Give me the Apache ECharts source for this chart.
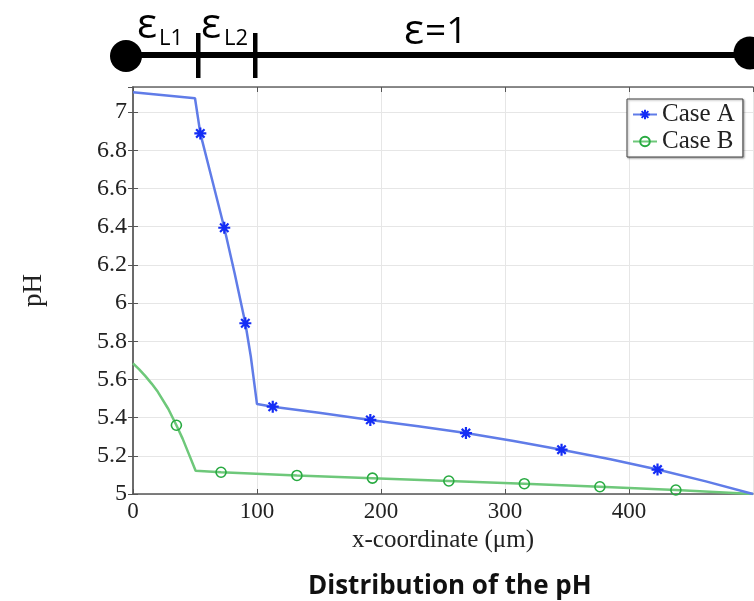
<!DOCTYPE html>
<html>
<head>
<meta charset="utf-8">
<script src="https://cdn.jsdelivr.net/npm/echarts@6/dist/echarts.min.js"></script>
<style>
html,body{margin:0;padding:0;background:#fff;}
#chart{width:754px;height:601px;}
</style>
</head>
<body>
<div id="chart"></div>
<script>
// ---- data ----
const xTicks = [0, 100, 200, 300, 400, 500];
const yTicks = [5, 5.2, 5.4, 5.6, 5.8, 6, 6.2, 6.4, 6.6, 6.8, 7];

const caseA_x  = [0, 50, 54.3, 64, 73.6, 82, 90.6, 95, 100, 112.7, 150, 191.4, 230, 268.5, 307, 345.6, 385, 423, 462, 500];
const caseA_pH = [7.103, 7.072, 6.888, 6.64, 6.394, 6.155, 5.894, 5.72, 5.471, 5.457, 5.425, 5.388, 5.355, 5.319, 5.277, 5.232, 5.182, 5.128, 5.066, 5.0];
const caseA_markX = [54.3, 73.6, 90.6, 112.7, 191.4, 268.5, 345.6, 423];

const caseB_x  = [0, 5, 10, 15, 20, 28.5, 35, 40, 45, 50.5, 71, 132.2, 193.1, 254.7, 315.6, 376.5, 437.8, 500];
const caseB_pH = [5.684, 5.652, 5.617, 5.578, 5.535, 5.445, 5.36, 5.29, 5.21, 5.122, 5.114, 5.097, 5.083, 5.068, 5.054, 5.038, 5.021, 5.0];
const caseB_markX = [35, 71, 132.2, 193.1, 254.7, 315.6, 376.5, 437.8];

const seriesNames = ['Case A', 'Case B'];
const titleText = 'Distribution of the pH';
const xName = 'x-coordinate (\u03bcm)';
const yName = 'pH';

// ---- build ----
function buildData(xs, ys, marks) {
  return xs.map((x, i) => {
    const item = { value: [x, ys[i]] };
    if (marks.indexOf(x) < 0) item.symbol = 'none';
    return item;
  });
}
const asterisk = 'path://M5,0L5,10M0,5L10,5M1.5,1.5L8.5,8.5M8.5,1.5L1.5,8.5';
const serif = 'Liberation Serif';
const sans = 'Open Sans';

const chart = echarts.init(document.getElementById('chart'), null, { renderer: 'canvas' });
const option = {
  animation: false,
  backgroundColor: '#fff',
  title: {
    text: titleText,
    left: 303, top: 569,
    textStyle: { fontFamily: sans, fontWeight: 'bold', fontSize: 26, color: '#111' }
  },
  grid: { left: 133, right: 1, top: 87, bottom: 107, containLabel: false },
  legend: {
    orient: 'vertical',
    left: 627, top: 99,
    data: seriesNames,
    backgroundColor: '#fff',
    borderColor: '#444', borderWidth: 1,
    shadowColor: 'rgba(0,0,0,0.35)', shadowBlur: 2, shadowOffsetX: 1, shadowOffsetY: 1,
    padding: [3, 8, 3, 5],
    itemWidth: 24, itemHeight: 12, itemGap: 2,
    textStyle: { fontFamily: serif, fontSize: 25, color: '#222' }
  },
  xAxis: [{
    type: 'value', min: xTicks[0], max: xTicks[xTicks.length - 1], interval: xTicks[1] - xTicks[0],
    name: xName, nameLocation: 'middle', nameGap: 33,
    nameTextStyle: { fontFamily: serif, fontSize: 25, color: '#222' },
    axisLine: { show: true, lineStyle: { color: '#555', width: 1.5 } },
    axisTick: { show: true, inside: true, length: 5, lineStyle: { color: '#555' } },
    axisLabel: { fontFamily: serif, fontSize: 23, color: '#222', margin: 6, showMaxLabel: false },
    splitLine: { show: true, lineStyle: { color: '#e6e6e6', width: 1 } }
  }, {
    type: 'value', position: 'top', min: xTicks[0], max: xTicks[xTicks.length - 1], interval: xTicks[1] - xTicks[0],
    axisLine: { show: true, lineStyle: { color: '#666', width: 1.5 } },
    axisTick: { show: true, inside: true, length: 5, lineStyle: { color: '#555' } },
    axisLabel: { show: false }, splitLine: { show: false }
  }],
  yAxis: [{
    type: 'value', min: yTicks[0], max: 7.131, interval: yTicks[1] - yTicks[0],
    name: yName, nameLocation: 'middle', nameGap: 86, nameRotate: 90,
    nameTextStyle: { fontFamily: serif, fontSize: 27, color: '#222' },
    axisLine: { show: true, lineStyle: { color: '#555', width: 1.5 } },
    axisTick: { show: true, inside: true, length: 5, lineStyle: { color: '#555' } },
    axisLabel: { fontFamily: serif, fontSize: 24, color: '#222', margin: 6, showMaxLabel: false,
      formatter: v => String(+v.toFixed(1)) },
    splitLine: { show: true, lineStyle: { color: '#e6e6e6', width: 1 } }
  }, {
    type: 'value', position: 'right', min: yTicks[0], max: 7.131, interval: yTicks[1] - yTicks[0],
    axisLine: { show: true, lineStyle: { color: '#666', width: 1.5 } },
    axisTick: { show: true, inside: true, length: 5, lineStyle: { color: '#555' } },
    axisLabel: { show: false }, splitLine: { show: false }
  }],
  series: [{
    name: seriesNames[0], type: 'line',
    data: buildData(caseA_x, caseA_pH, caseA_markX),
    symbol: asterisk, symbolSize: 12, showSymbol: true, showAllSymbol: true,
    lineStyle: { color: 'rgb(96,124,232)', width: 2.5 },
    itemStyle: { color: 'rgba(0,0,0,0)', borderColor: 'rgb(20,45,245)', borderWidth: 2.2 },
    z: 3
  }, {
    name: seriesNames[1], type: 'line',
    data: buildData(caseB_x, caseB_pH, caseB_markX),
    symbol: 'circle', symbolSize: 10, showSymbol: true, showAllSymbol: true,
    lineStyle: { color: 'rgb(110,200,122)', width: 2.5 },
    itemStyle: { color: 'rgba(0,0,0,0)', borderColor: 'rgb(40,170,65)', borderWidth: 1.6 },
    z: 2
  }],
  graphic: [
    { type: 'line', shape: { x1: 126, y1: 55, x2: 750, y2: 55 }, style: { stroke: '#000', lineWidth: 6 } },
    { type: 'circle', shape: { cx: 126, cy: 56, r: 16 }, style: { fill: '#000' } },
    { type: 'circle', shape: { cx: 750, cy: 53, r: 16.5 }, style: { fill: '#000' } },
    { type: 'rect', shape: { x: 196, y: 33, width: 4.5, height: 45 }, style: { fill: '#000' } },
    { type: 'rect', shape: { x: 253, y: 33, width: 4.5, height: 45 }, style: { fill: '#000' } },
    { type: 'text', style: { text: '\u03b5', x: 137, y: 26, font: '42px "Open Sans"', fill: '#000', textVerticalAlign: 'middle' } },
    { type: 'text', style: { text: 'L1', x: 159, y: 38.5, font: '22px "Open Sans"', fill: '#000', textVerticalAlign: 'middle' } },
    { type: 'text', style: { text: '\u03b5', x: 201, y: 26, font: '42px "Open Sans"', fill: '#000', textVerticalAlign: 'middle' } },
    { type: 'text', style: { text: 'L2', x: 224, y: 38.5, font: '22px "Open Sans"', fill: '#000', textVerticalAlign: 'middle' } },
    { type: 'text', style: { text: '\u03b5', x: 404, y: 32, font: '42px "Open Sans"', fill: '#000', textVerticalAlign: 'middle' } },
    { type: 'text', style: { text: '=1', x: 425, y: 32, font: '37px "Open Sans"', fill: '#000', textVerticalAlign: 'middle' } }
  ]
};
chart.setOption(option);
</script>
</body>
</html>
